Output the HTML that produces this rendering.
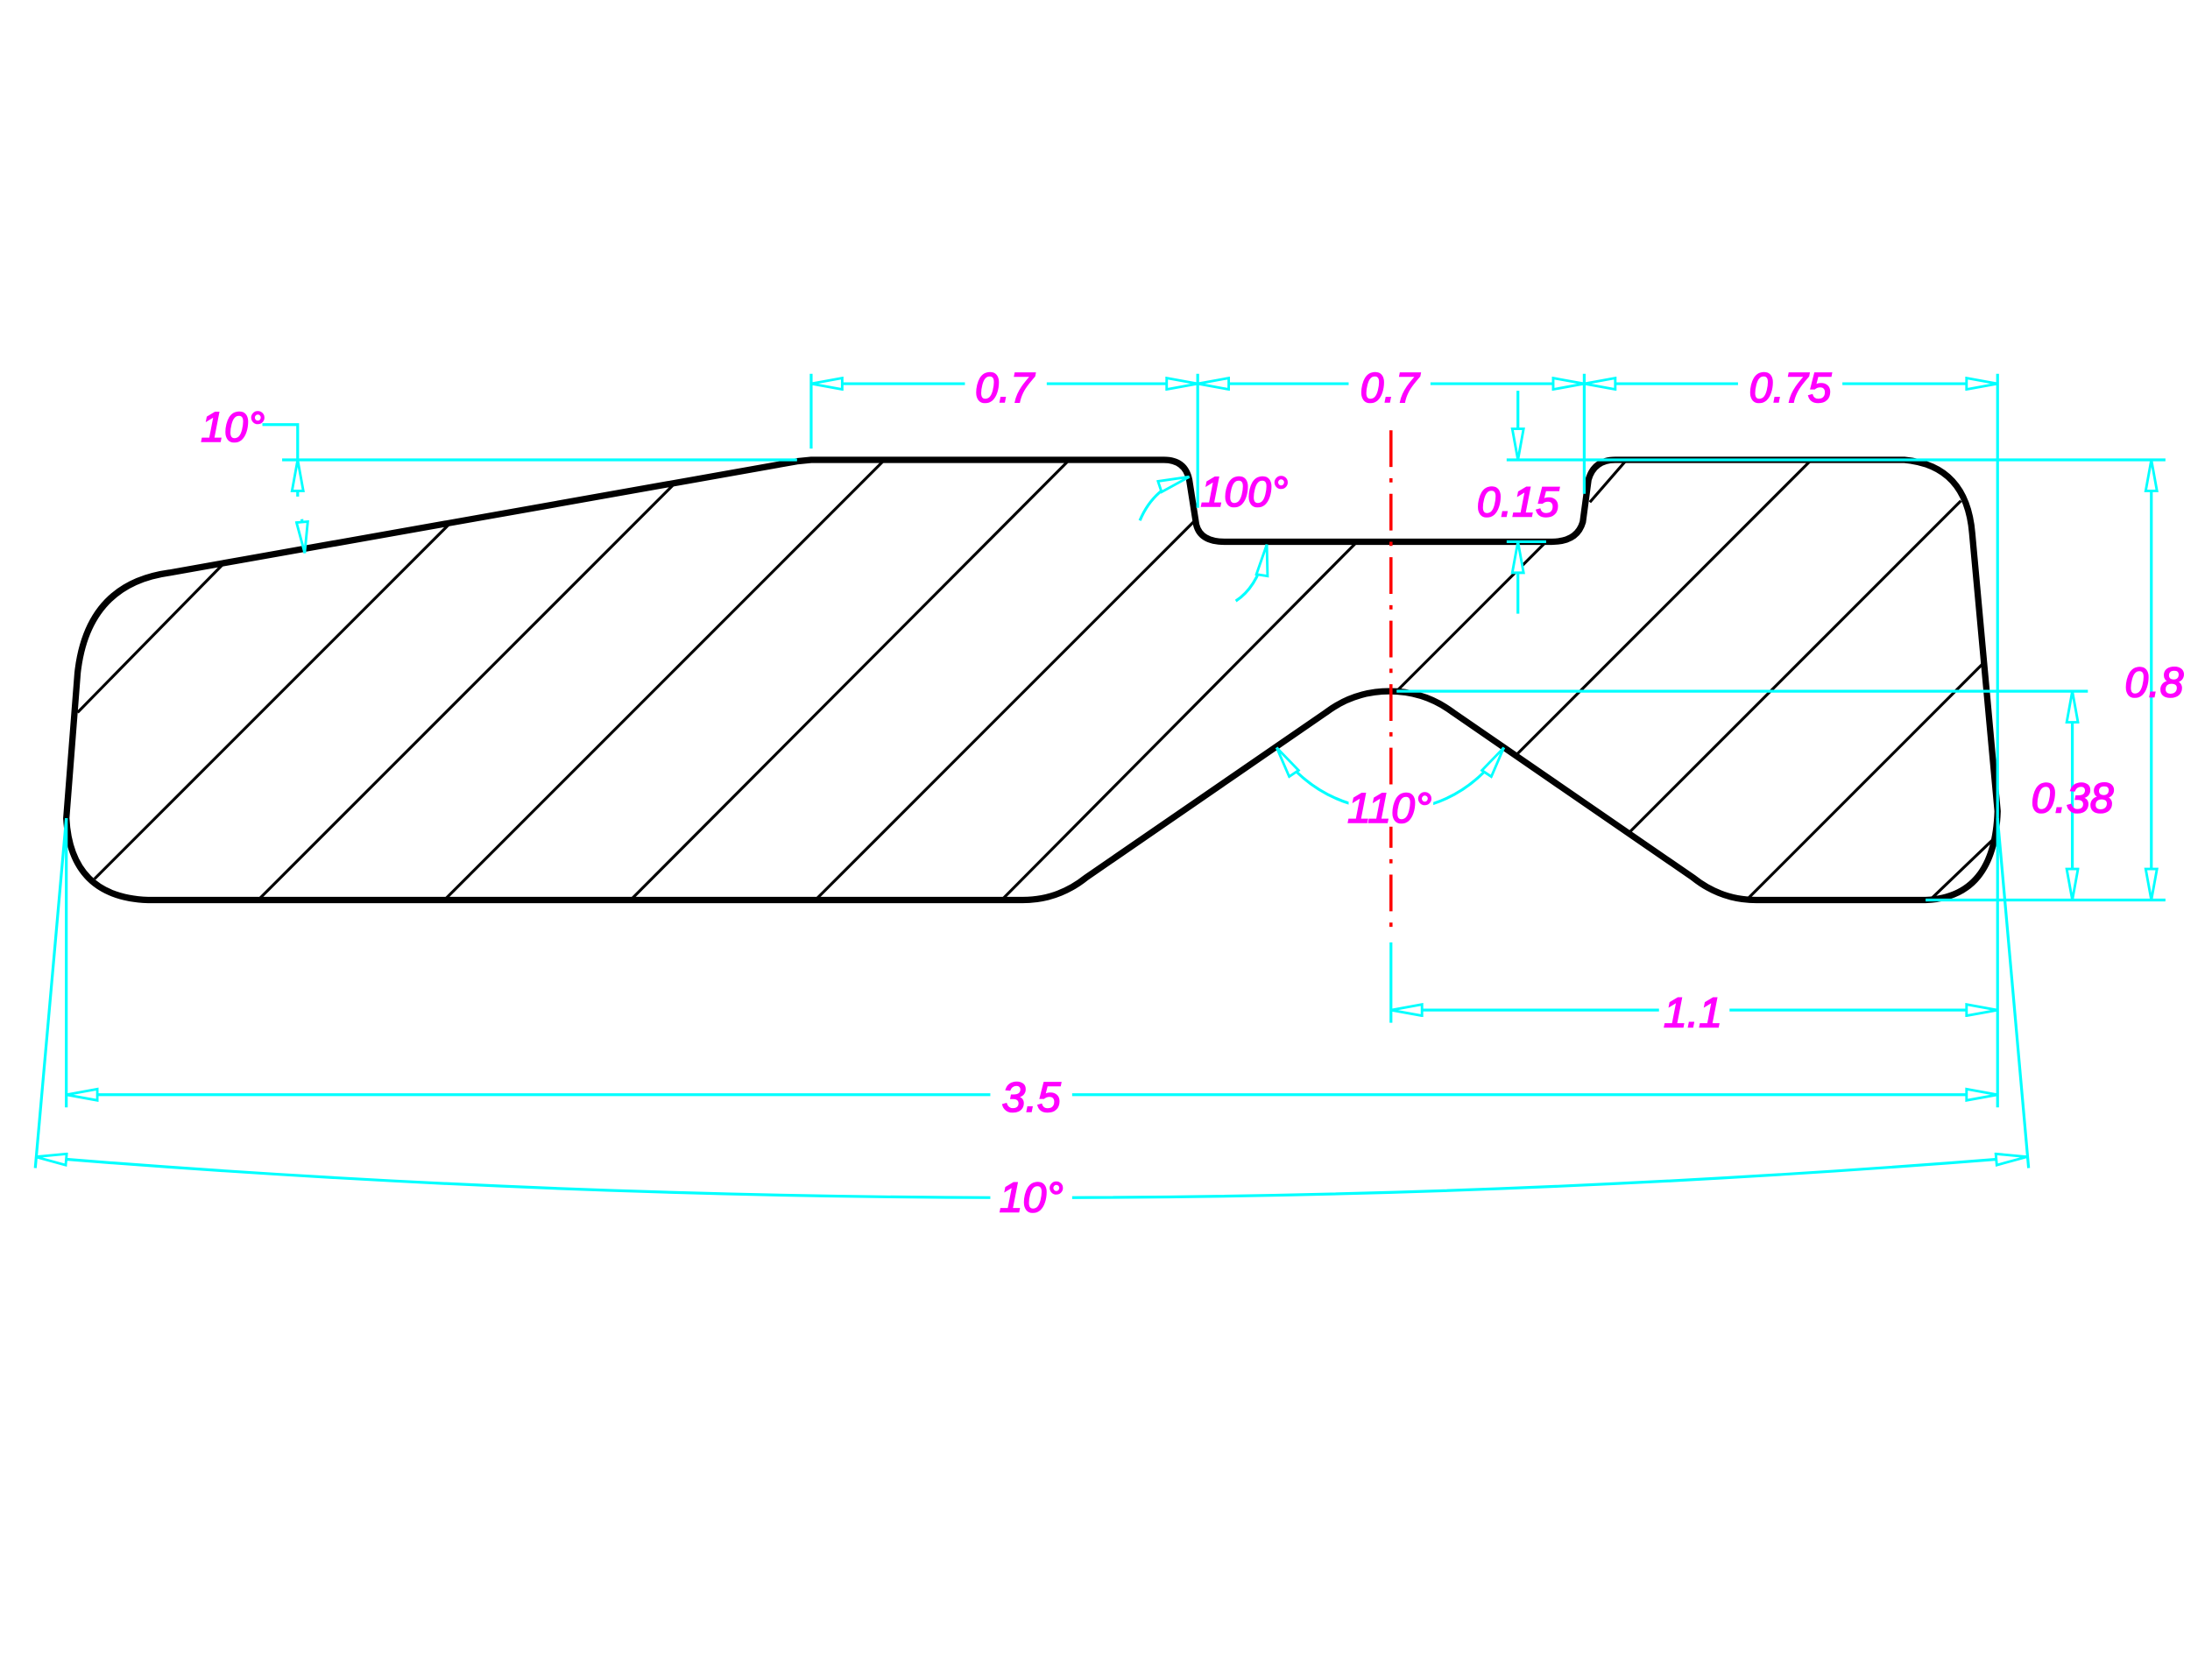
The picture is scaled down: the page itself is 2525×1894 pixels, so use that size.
<!DOCTYPE html>
<html><head><meta charset="utf-8"><style>
html,body{margin:0;padding:0;background:#fff;}
svg{display:block;}
text{font-family:"Liberation Sans",sans-serif;font-style:italic;fill:#ff00ff;stroke:#ff00ff;stroke-width:1;font-size:30px;text-anchor:middle;}
</style></head><body>
<svg width="2525" height="1894" viewBox="0 0 1568 1176" preserveAspectRatio="none" xmlns="http://www.w3.org/2000/svg">
<defs>
<marker id="a" viewBox="-1 -1 24 10" refX="22" refY="4" markerWidth="24" markerHeight="10" markerUnits="userSpaceOnUse" orient="auto-start-reverse">
<path d="M22,4 L0,0 L0,8 Z" fill="#fff" stroke="#00ffff" stroke-width="1.8"/>
</marker>
</defs>
<rect width="1568" height="1176" fill="#fff"/>
<g stroke="#000" stroke-width="2">
<line x1="55" y1="505" x2="158" y2="400"/>
<line x1="67" y1="623" x2="318" y2="372"/>
<line x1="183" y1="638" x2="478" y2="343"/>
<line x1="315" y1="638" x2="627" y2="326"/>
<line x1="447" y1="638" x2="758" y2="326"/>
<line x1="578" y1="638" x2="848" y2="368"/>
<line x1="710" y1="638" x2="962" y2="384"/>
<line x1="990" y1="490" x2="1096" y2="384"/>
<line x1="1127" y1="356" x2="1153" y2="326"/>
<line x1="1075" y1="535" x2="1284" y2="326"/>
<line x1="1155" y1="590" x2="1390" y2="355"/>
<line x1="1238" y1="638" x2="1407" y2="469"/>
<line x1="1368" y1="638" x2="1416" y2="592"/>
</g>
<path d="M575,326 L825,326 Q840,326 843,340 L848,372 Q851,384 868,384 L1100,384 Q1118,384 1122,370 L1126,340 Q1130,326 1145,326 L1350,326 Q1394,330 1398,378 L1416,575 Q1414,636 1365,638 L1245,638 Q1220,638 1200,622 L1030,505 Q1010,490 985,490 Q960,490 940,505 L770,622 Q750,638 725,638 L105,638 Q50,636 47,580 L55,477 Q62,414 120,406 L565,327 Z" fill="none" stroke="#000" stroke-width="4.5" stroke-linejoin="round"/>
<line x1="986" y1="305" x2="986" y2="660" stroke="#ff0000" stroke-width="2.2" stroke-dasharray="26,8,3,8"/>
<g stroke="#00ffff" stroke-width="2" fill="none">
<line x1="575" y1="265" x2="575" y2="318"/>
<line x1="849" y1="265" x2="849" y2="360"/>
<line x1="1123" y1="265" x2="1123" y2="350"/>
<line x1="1416" y1="265" x2="1416" y2="785"/>
<line x1="575" y1="272" x2="849" y2="272" marker-start="url(#a)" marker-end="url(#a)"/>
<line x1="849" y1="272" x2="1123" y2="272" marker-start="url(#a)" marker-end="url(#a)"/>
<line x1="1123" y1="272" x2="1416" y2="272" marker-start="url(#a)" marker-end="url(#a)"/>
<line x1="200" y1="326" x2="565" y2="326"/>
<polyline points="186,301 211,301 211,326"/>
<line x1="211" y1="352" x2="211" y2="326" marker-end="url(#a)"/>
<line x1="214" y1="368" x2="216" y2="392" marker-end="url(#a)"/>
<path d="M808,369 Q818,345 843,338"/>
<line x1="825" y1="344" x2="843" y2="338" marker-end="url(#a)"/>
<path d="M876,426 Q893,415 898,386"/>
<line x1="895" y1="405" x2="898" y2="386" marker-end="url(#a)"/>
<line x1="1068" y1="326" x2="1535" y2="326"/>
<line x1="1068" y1="384" x2="1096" y2="384"/>
<line x1="1076" y1="277" x2="1076" y2="326" marker-end="url(#a)"/>
<line x1="1076" y1="435" x2="1076" y2="384" marker-end="url(#a)"/>
<line x1="1365" y1="638" x2="1535" y2="638"/>
<line x1="990" y1="490" x2="1480" y2="490"/>
<line x1="1525" y1="326" x2="1525" y2="638" marker-start="url(#a)" marker-end="url(#a)"/>
<line x1="1469" y1="490" x2="1469" y2="638" marker-start="url(#a)" marker-end="url(#a)"/>
<path d="M905,530 Q925,560 958,570"/>
<line x1="917" y1="548" x2="905" y2="530" marker-end="url(#a)"/>
<path d="M1066,530 Q1046,560 1015,570"/>
<line x1="1054" y1="548" x2="1066" y2="530" marker-end="url(#a)"/>
<line x1="986" y1="668" x2="986" y2="725"/>
<line x1="986" y1="716" x2="1416" y2="716" marker-start="url(#a)" marker-end="url(#a)"/>
<line x1="47" y1="580" x2="47" y2="785"/>
<line x1="47" y1="776" x2="1416" y2="776" marker-start="url(#a)" marker-end="url(#a)"/>
<line x1="47" y1="580" x2="25" y2="828"/>
<line x1="1416" y1="580" x2="1438" y2="828"/>
<path d="M25,820 Q731,878 1437,820"/>
<line x1="48" y1="822" x2="25" y2="820" marker-end="url(#a)"/>
<line x1="1414" y1="822" x2="1437" y2="820" marker-end="url(#a)"/>
</g>
<g>
<rect x="684" y="258" width="58" height="28" fill="#fff"/>
<text x="712" y="285">0.7</text>
<rect x="956" y="258" width="58" height="28" fill="#fff"/>
<text x="985" y="285">0.7</text>
<rect x="1232" y="258" width="74" height="28" fill="#fff"/>
<text x="1269" y="285">0.75</text>
<text x="165" y="313">10°</text>
<text x="882" y="359">100°</text>
<text x="1076" y="366">0.15</text>
<text x="1527" y="494">0.8</text>
<text x="1469" y="576">0.38</text>
<rect x="956" y="558" width="60" height="28" fill="#fff"/>
<text x="985" y="583">110°</text>
<rect x="1176" y="702" width="50" height="28" fill="#fff"/>
<text x="1200" y="728">1.1</text>
<rect x="702" y="762" width="58" height="28" fill="#fff"/>
<text x="731" y="788">3.5</text>
<rect x="702" y="834" width="58" height="28" fill="#fff"/>
<text x="731" y="859">10°</text>
</g>
</svg>
</body></html>
